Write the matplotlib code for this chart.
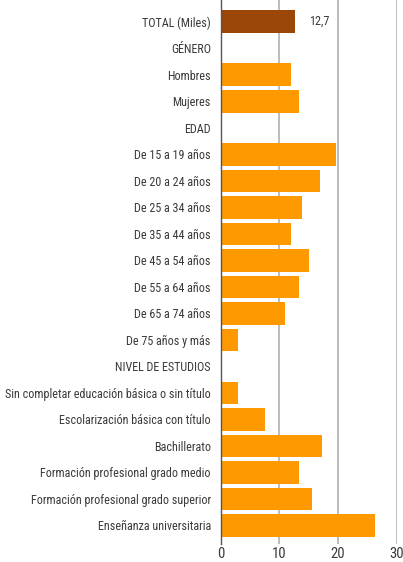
import matplotlib.pyplot as plt
from matplotlib import font_manager
import numpy as np

categories = [
    "TOTAL (Miles)", "GÉNERO", "Hombres", "Mujeres", "EDAD",
    "De 15 a 19 años", "De 20 a 24 años", "De 25 a 34 años", "De 35 a 44 años",
    "De 45 a 54 años", "De 55 a 64 años", "De 65 a 74 años", "De 75 años y más",
    "NIVEL DE ESTUDIOS",
    "Sin completar educación básica o sin título",
    "Escolarización básica con título",
    "Bachillerato",
    "Formación profesional grado medio",
    "Formación profesional grado superior",
    "Enseñanza universitaria",
]
values = [12.7, None, 12.0, 13.4, None,
          19.7, 16.9, 13.8, 11.9, 15.1, 13.3, 10.9, 2.9,
          None,
          3.0, 7.6, 17.3, 13.4, 15.5, 26.2]
total_label = "12,7"
xticks = [0, 10, 20, 30]

# pick a narrow family if there is one
installed = {f.name for f in font_manager.fontManager.ttflist}
narrow = [n for n in ["Liberation Sans Narrow", "Roboto Condensed", "DejaVu Sans Condensed"]
          if n in installed]
font = (narrow[:1] or ["DejaVu Sans"]) + ["DejaVu Sans"]
text_color = "#3a3a3a"

fig = plt.figure(figsize=(4.03, 5.62), dpi=100)
ax = fig.add_axes([220.5 / 403, 18 / 562, (397 - 220.5) / 403, 544 / 562])

y = np.arange(len(categories))
for i, v in enumerate(values):
    if v is None:
        continue
    color = "#9a4708" if i == 0 else "#ff9900"
    ax.barh(y[i], v, height=0.85, color=color, zorder=2)

ax.set_xlim(0, 30)
ax.set_ylim(19.7, -0.82)
ax.set_xticks(xticks)
ax.set_xticklabels([str(t) for t in xticks], family=font, fontsize=10.5, color=text_color)
ax.set_yticks(y)
labels = ax.set_yticklabels(categories, family=font, fontsize=9.5, color=text_color)
ax.tick_params(axis="both", length=0)
ax.tick_params(axis="y", pad=7)
ax.tick_params(axis="x", pad=2)

# shrink the labels so the longest one spans about 206 px, like the source
fig.canvas.draw()
r = fig.canvas.get_renderer()
widest = max(t.get_window_extent(r).width for t in labels)
size = 9.5 * 206 / widest
for t in labels:
    t.set_fontsize(size)

ax.text(values[0] + 4.0, 0, total_label, va="center", ha="center",
        fontsize=size, family=font, color=text_color)

ax.grid(axis="x", color="#b0b0b0", linewidth=1.2, zorder=0)
for s in ["top", "right", "bottom"]:
    ax.spines[s].set_visible(False)
ax.spines["left"].set_color("#555555")
ax.spines["left"].set_linewidth(1.0)
ax.spines["left"].set_zorder(3)

fig.savefig("out.png", dpi=100)
